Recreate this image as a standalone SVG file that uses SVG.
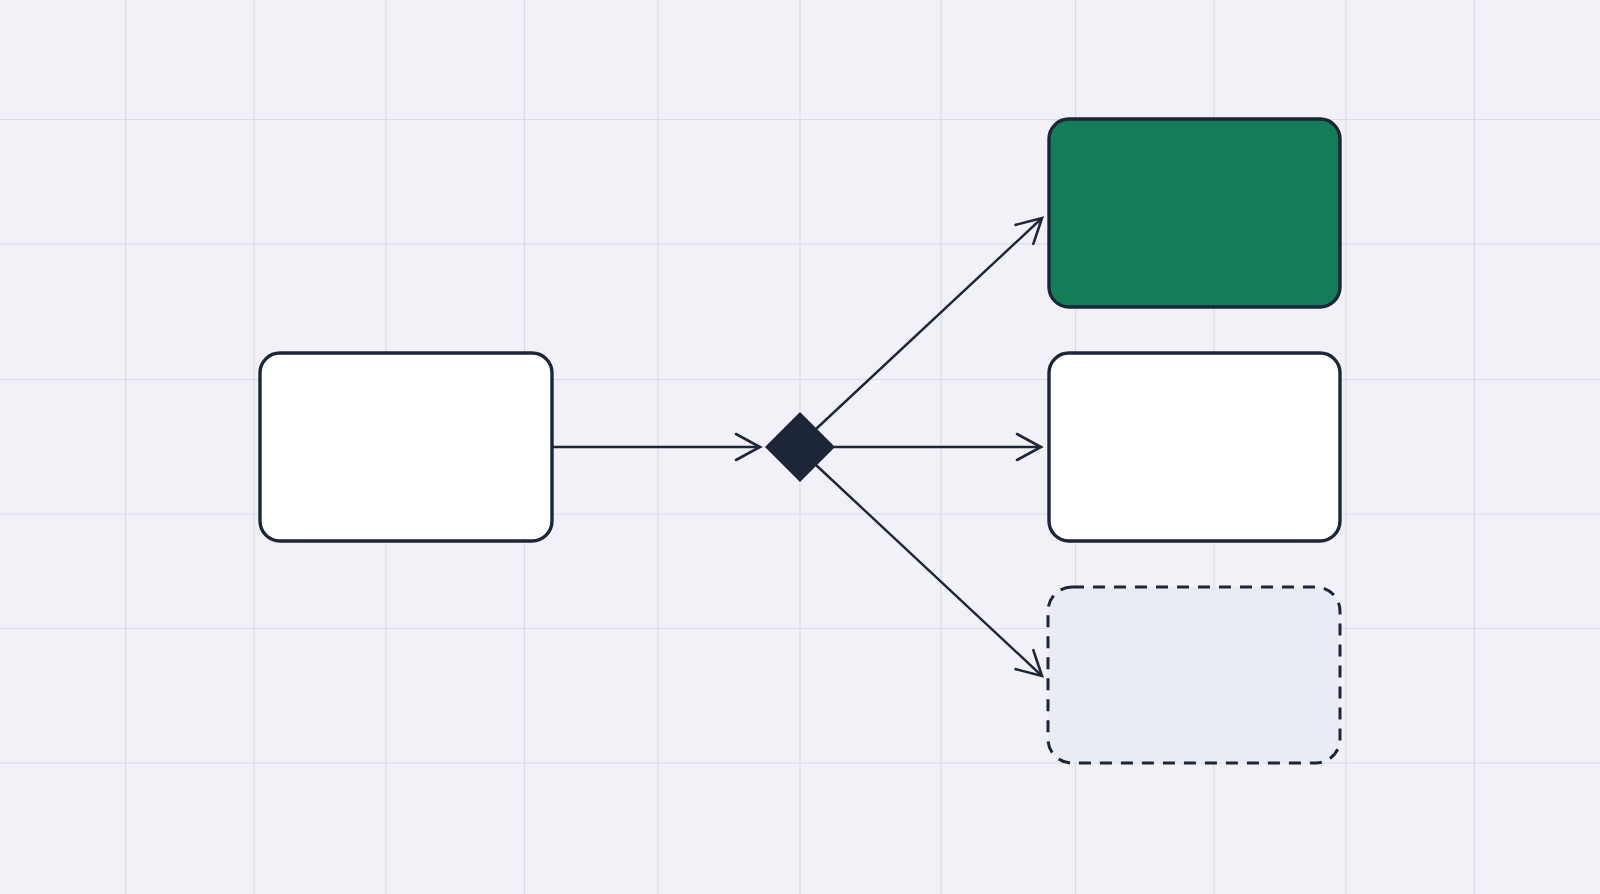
<svg xmlns="http://www.w3.org/2000/svg" width="1600" height="894" viewBox="0 0 1600 894">
  <style>
    .grid line { stroke: #d9dce7; stroke-width: 1.2; }
    .box { stroke: #1c2638; stroke-width: 3.4; }
    .conn { stroke: #1c2638; stroke-width: 2.4; fill: none; marker-end: url(#arrow); }
  </style>
  <defs>
    <marker id="arrow" markerUnits="userSpaceOnUse" viewBox="-28 -16 32 32" refX="0" refY="0" markerWidth="32" markerHeight="32" orient="auto">
      <path d="M-24,-13 L0,0 L-24,13" fill="none" stroke="#1c2638" stroke-width="2.6" stroke-linecap="round" stroke-linejoin="miter"/>
    </marker>
  </defs>
  <rect x="0" y="0" width="1600" height="894" fill="#f1f1f7"/>
  <g class="grid">
    <line x1="125.5" y1="0" x2="125.5" y2="894"/>
    <line x1="254" y1="0" x2="254" y2="894"/>
    <line x1="386" y1="0" x2="386" y2="894"/>
    <line x1="524.5" y1="0" x2="524.5" y2="894"/>
    <line x1="658" y1="0" x2="658" y2="894"/>
    <line x1="800" y1="0" x2="800" y2="894"/>
    <line x1="941" y1="0" x2="941" y2="894"/>
    <line x1="1075.5" y1="0" x2="1075.5" y2="894"/>
    <line x1="1214" y1="0" x2="1214" y2="894"/>
    <line x1="1346" y1="0" x2="1346" y2="894"/>
    <line x1="1474.5" y1="0" x2="1474.5" y2="894"/>
    <line x1="0" y1="119.5" x2="1600" y2="119.5"/>
    <line x1="0" y1="244" x2="1600" y2="244"/>
    <line x1="0" y1="379.5" x2="1600" y2="379.5"/>
    <line x1="0" y1="514" x2="1600" y2="514"/>
    <line x1="0" y1="628.5" x2="1600" y2="628.5"/>
    <line x1="0" y1="763" x2="1600" y2="763"/>
  </g>
  <g id="connectors">
    <line class="conn" x1="552" y1="447" x2="760" y2="447"/>
    <line class="conn" x1="834" y1="447" x2="1041" y2="447"/>
    <line class="conn" x1="816" y1="429" x2="1042" y2="218"/>
    <line class="conn" x1="816" y1="465" x2="1042" y2="676"/>
  </g>
  <g id="source">
    <rect class="box" x="260" y="353" width="292" height="188" rx="20" fill="#ffffff"/>
  </g>
  <g id="decision">
    <polygon points="800,412 835,447 800,482 765,447" fill="#1c2638"/>
  </g>
  <g id="target-green">
    <rect class="box" x="1049" y="119" width="291" height="188" rx="20" fill="#137d59"/>
  </g>
  <g id="target-white">
    <rect class="box" x="1049" y="353" width="291" height="188" rx="20" fill="#ffffff"/>
  </g>
  <g id="target-dashed">
    <rect x="1048" y="587" width="292" height="176" rx="24" fill="#eaecf5" stroke="#1c2638" stroke-width="3" stroke-dasharray="12 9"/>
  </g>
</svg>
